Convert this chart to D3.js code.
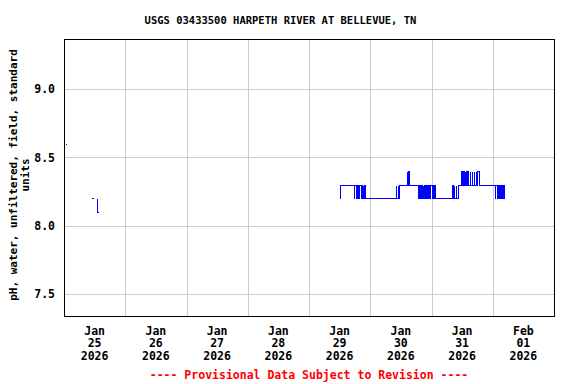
<html>
<head>
<script src="https://d3js.org/d3.v7.min.js"></script>
<style>
  body { margin: 0; background: #fff; }
  text { font-family: "DejaVu Sans Mono", monospace; font-weight: bold; }
</style>
</head>
<body>
<script>
// pH readings, Jan 25 (short isolated bits) -- null breaks the line
var jan25Times = ["2026-01-25 00:30", "2026-01-25 00:45", "2026-01-25 01:00",
                  "2026-01-25 10:30", "2026-01-25 11:30", "2026-01-25 12:00",
                  "2026-01-25 12:45", "2026-01-25 13:00", "2026-01-25 13:15"];
var jan25Values = [8.6, 8.6, null, 8.2, 8.2, null, 8.2, 8.1, 8.1];

// pH readings Jan 29 - Feb 1, change points (value holds until next time)
var mainTimes = [
  "2026-01-29 11:45", "2026-01-29 12:15", "2026-01-29 17:30", "2026-01-29 17:45",
  "2026-01-29 18:15", "2026-01-29 18:30", "2026-01-29 19:00", "2026-01-29 19:15",
  "2026-01-29 19:30", "2026-01-29 19:45", "2026-01-29 20:15", "2026-01-29 20:30",
  "2026-01-29 20:45", "2026-01-29 21:00", "2026-01-29 21:15", "2026-01-29 21:30",
  "2026-01-29 21:45",
  "2026-01-30 10:00", "2026-01-30 10:15", "2026-01-30 10:45", "2026-01-30 11:00",
  "2026-01-30 11:15", "2026-01-30 14:15", "2026-01-30 14:30", "2026-01-30 14:45",
  "2026-01-30 15:15", "2026-01-30 18:45", "2026-01-30 19:00", "2026-01-30 19:30",
  "2026-01-30 19:45", "2026-01-30 20:15", "2026-01-30 20:30", "2026-01-30 20:45",
  "2026-01-30 21:00", "2026-01-30 21:30", "2026-01-30 21:45", "2026-01-30 22:15",
  "2026-01-30 22:30", "2026-01-30 23:00", "2026-01-30 23:15",
  "2026-01-31 00:00", "2026-01-31 00:15", "2026-01-31 00:45", "2026-01-31 01:00",
  "2026-01-31 01:15",
  "2026-01-31 08:00", "2026-01-31 08:15", "2026-01-31 08:45", "2026-01-31 09:00",
  "2026-01-31 09:30", "2026-01-31 09:45", "2026-01-31 10:15", "2026-01-31 11:45",
  "2026-01-31 12:00", "2026-01-31 12:30", "2026-01-31 12:45", "2026-01-31 13:00",
  "2026-01-31 13:15", "2026-01-31 13:30", "2026-01-31 13:45", "2026-01-31 14:00",
  "2026-01-31 14:15", "2026-01-31 15:00", "2026-01-31 15:15", "2026-01-31 15:45",
  "2026-01-31 16:00", "2026-01-31 16:30", "2026-01-31 16:45", "2026-01-31 17:15",
  "2026-01-31 17:30", "2026-01-31 18:00", "2026-01-31 18:45",
  "2026-02-01 00:45", "2026-02-01 01:00", "2026-02-01 01:30", "2026-02-01 01:45",
  "2026-02-01 02:15", "2026-02-01 02:30", "2026-02-01 03:00", "2026-02-01 03:15",
  "2026-02-01 03:45", "2026-02-01 04:00", "2026-02-01 04:15"
];
var mainValues = [
  8.2, 8.3, 8.2, 8.3,
  8.2, 8.3, 8.2, 8.3,
  8.2, 8.3, 8.2, 8.3,
  8.2, 8.3, 8.2, 8.3,
  8.2,
  8.3, 8.2, 8.3, 8.2,
  8.3, 8.4, 8.3, 8.4,
  8.3, 8.2, 8.3, 8.2,
  8.3, 8.2, 8.3, 8.2,
  8.3, 8.2, 8.3, 8.2,
  8.3, 8.2, 8.3,
  8.2, 8.3, 8.2, 8.3,
  8.2,
  8.3, 8.2, 8.3, 8.2,
  8.3, 8.2, 8.3, 8.4,
  8.3, 8.4, 8.3, 8.4,
  8.3, 8.4, 8.3, 8.4,
  8.3, 8.4, 8.3, 8.4,
  8.3, 8.4, 8.3, 8.4,
  8.3, 8.4, 8.3,
  8.2, 8.3, 8.2, 8.3,
  8.2, 8.3, 8.2, 8.3,
  8.2, 8.3, 8.2
];

var dayTicks = ["2026-01-25", "2026-01-26", "2026-01-27", "2026-01-28",
                "2026-01-29", "2026-01-30", "2026-01-31", "2026-02-01"];
var yTicks = [7.5, 8.0, 8.5, 9.0];

var title = "USGS 03433500 HARPETH RIVER AT BELLEVUE, TN";
var yLabel = ["pH, water, unfiltered, field, standard", "units"];
var footer = "---- Provisional Data Subject to Revision ----";

var margin = {top: 39, right: 22, bottom: 68, left: 64},
    width = 576 - margin.left - margin.right,
    height = 384 - margin.top - margin.bottom;

var parseT = d3.timeParse("%Y-%m-%d %H:%M");
var parseD = d3.timeParse("%Y-%m-%d");

var svg = d3.select("body").append("svg")
    .attr("width", 576)
    .attr("height", 384);

var g = svg.append("g")
    .attr("transform", "translate(" + margin.left + "," + margin.top + ")");

var x = d3.scaleTime()
    .domain([parseD("2026-01-25"), parseD("2026-02-02")])
    .range([0, width]);

var y = d3.scaleLinear()
    .domain([7.339, 9.366])
    .range([height, 0]);

// vertical grid at midnights
g.selectAll(".vgrid")
  .data(dayTicks.slice(1))
  .enter().append("line")
    .attr("x1", function(d) { return Math.round(x(parseD(d))) + 0.5; })
    .attr("x2", function(d) { return Math.round(x(parseD(d))) + 0.5; })
    .attr("y1", 0).attr("y2", height)
    .attr("stroke", "#cccccc");

// horizontal grid
g.selectAll(".hgrid")
  .data(yTicks)
  .enter().append("line")
    .attr("x1", 0).attr("x2", width)
    .attr("y1", function(d) { return Math.round(y(d)) + 0.5; })
    .attr("y2", function(d) { return Math.round(y(d)) + 0.5; })
    .attr("stroke", "#cccccc");

// Y axis labels
var yAxis = g.append("g")
    .call(d3.axisLeft(y).tickValues(yTicks).tickFormat(d3.format(".1f")).tickSize(0).tickPadding(9));
yAxis.select(".domain").remove();
yAxis.selectAll("text").style("font-size", "11.5px").style("font-family", "DejaVu Sans Mono").attr("fill", "#000");

// X axis labels at noon, three lines
var fmtMon = d3.timeFormat("%b"), fmtDay = d3.timeFormat("%d"), fmtYr = d3.timeFormat("%Y");
var xl = g.append("g").attr("transform", "translate(0," + height + ")");
dayTicks.forEach(function(d) {
  var day = parseD(d);
  var noon = d3.timeHour.offset(day, 12);
  var t = xl.append("text")
      .attr("text-anchor", "middle")
      .attr("x", x(noon))
      .style("font-size", "11.5px");
  [fmtMon(day), fmtDay(day), fmtYr(day)].forEach(function(s, i) {
    t.append("tspan").attr("x", x(noon)).attr("y", 18.5 + i * 12.8).text(s);
  });
});

// data lines
var line = d3.line()
    .defined(function(d) { return d.v != null; })
    .x(function(d) { return Math.round(x(d.t)) + 0.5; })
    .y(function(d) { return Math.round(y(d.v)) + 0.5; })
    .curve(d3.curveStepAfter);

function pairs(times, values) {
  return times.map(function(t, i) { return {t: parseT(t), v: values[i]}; });
}

[pairs(jan25Times, jan25Values), pairs(mainTimes, mainValues)].forEach(function(data) {
  g.append("path")
    .datum(data)
    .attr("d", line)
    .attr("fill", "none")
    .attr("stroke", "#0000ff")
    .attr("stroke-width", 1)
    .attr("shape-rendering", "crispEdges");
});

// frame
g.append("rect")
    .attr("x", 0.5).attr("y", 0.5)
    .attr("width", width).attr("height", height)
    .attr("fill", "none")
    .attr("stroke", "#000")
    .attr("stroke-width", 1);

// title
svg.append("text")
    .attr("x", 280.5).attr("y", 24)
    .attr("text-anchor", "middle")
    .style("font-size", "10.5px")
    .text(title);

// y label, rotated
var yl = svg.append("text")
    .attr("transform", "translate(0,175) rotate(-90)")
    .attr("text-anchor", "middle")
    .style("font-size", "11px");
yl.append("tspan").attr("x", 0).attr("y", 17).text(yLabel[0]);
yl.append("tspan").attr("x", 0).attr("y", 29).text(yLabel[1]);

// footer
svg.append("text")
    .attr("x", margin.left + width / 2).attr("y", 378.5)
    .attr("text-anchor", "middle")
    .attr("fill", "#ff0000")
    .style("font-size", "11.5px")
    .text(footer);
</script>
</body>
</html>
